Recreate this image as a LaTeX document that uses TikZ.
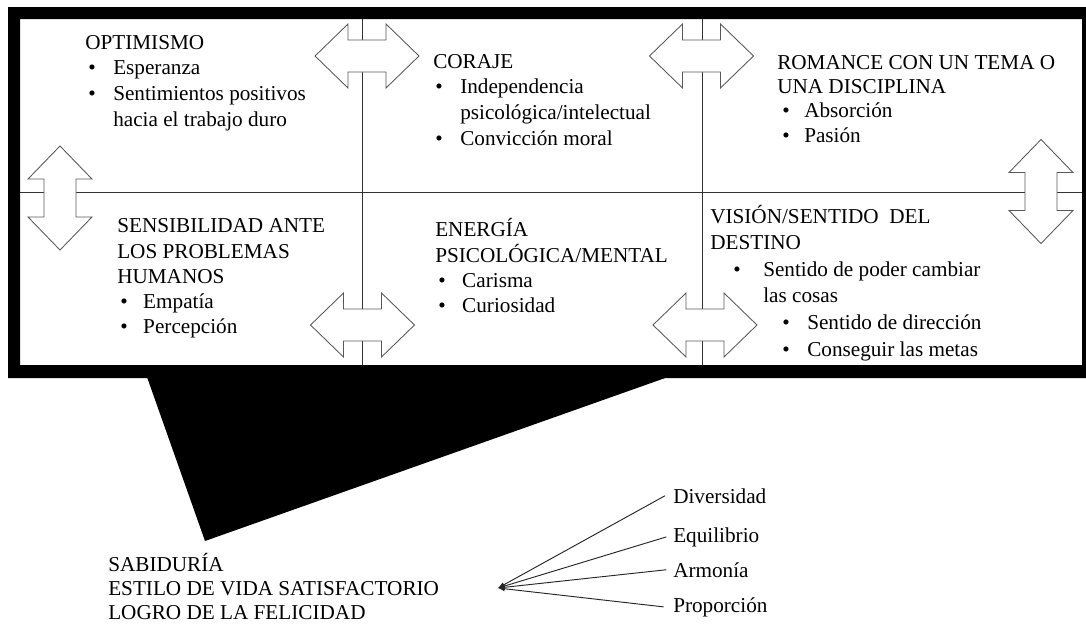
\documentclass[tikz,border=0pt]{standalone}
\usepackage{fontspec}
\setmainfont{Liberation Serif}
\usetikzlibrary{arrows.meta}
% one drawing unit = 0.75pt
\newdimen\px \px=0.75pt
% a stack of lines whose reference point is the first baseline
\newcommand\lns[2]{\vtop{\baselineskip=#1\relax\lineskiplimit=-100pt\relax\lineskip=0pt\relax #2}}
\newcommand\ttl[1]{\hbox{#1}}
% bullet item: bullet offset, text offset, text
\newcommand\blt[3]{\hbox{\rlap{\hskip#1\relax\textbullet}\hskip#2\relax #3}}
% continuation line of an item
\newcommand\cnt[2]{\hbox{\hskip#1\relax #2}}
\begin{document}
\begin{tikzpicture}[x=0.75pt, y=-0.75pt,
  txt/.style={inner sep=0pt, anchor=base west, font=\fontsize{15.9}{19}\selectfont, text=black},
  gridline/.style={line width=0.7pt, draw=black!80},
  arrowline/.style={draw=black!65, fill=white, line width=0.65pt, line join=miter},
  fanline/.style={line width=0.7pt, draw=black!85, -{Latex[length=5pt,width=4pt]}},
  dbl/.pic={\path[arrowline] (-52,0) -- (-19,-32) -- (-19,-16) -- (19,-16) -- (19,-32)
      -- (52,0) -- (19,32) -- (19,16) -- (-19,16) -- (-19,32) -- cycle;}]
\useasboundingbox (0,0) rectangle (1086,626);
\fill[white] (0,0) rectangle (1086,626);

% thick frame around the six qualities
\fill[black, even odd rule] (8,7) rectangle (1096,378) (20,19) rectangle (1082,365);
% funnel leading down to the outcome
\fill[black] (147,377) -- (668,377) -- (205,541) -- cycle;

% dividing lines
\draw[gridline] (20,192.5) -- (1082,192.5);
\draw[gridline] (362.7,19) -- (362.7,365);
\draw[gridline] (702.7,19) -- (702.7,365);

% double arrows between the fields
\pic at (367,56) {dbl};
\pic at (701.5,56) {dbl};
\pic at (362.5,325) {dbl};
\pic at (705,325) {dbl};
\pic[rotate=90] at (60,198) {dbl};
\pic[rotate=90] at (1041,191.5) {dbl};

% the six fields
\node[txt] (optimismo) at (85,49.3) {\lns{25.6\px}{\ttl{OPTIMISMO}%
  \blt{3\px}{28\px}{Esperanza}\blt{3\px}{28\px}{Sentimientos positivos}%
  \cnt{28\px}{hacia el trabajo duro}}};
\node[txt] (coraje) at (433,68.3) {\lns{25.6\px}{\ttl{CORAJE}%
  \blt{2\px}{27\px}{Independencia}\cnt{27\px}{psicológica/intelectual}%
  \blt{2\px}{27\px}{Convicción moral}}};
\node[txt] (romance) at (777,69) {\lns{24.4\px}{\ttl{ROMANCE CON UN TEMA O}%
  \ttl{UNA DISCIPLINA}\blt{5\px}{27\px}{Absorción}\blt{5\px}{27\px}{Pasión}}};
\node[txt] (sensibilidad) at (117,232.7) {\lns{25.3\px}{\ttl{SENSIBILIDAD ANTE}%
  \ttl{LOS PROBLEMAS}\ttl{HUMANOS}\blt{3\px}{26\px}{Empatía}\blt{3\px}{26\px}{Percepción}}};
\node[txt] (energia) at (435,236.7) {\lns{25.3\px}{\ttl{ENERGÍA}%
  \ttl{PSICOLÓGICA/MENTAL}\blt{3\px}{27\px}{Carisma}\blt{3\px}{27\px}{Curiosidad}}};
\node[txt] (vision) at (710,223) {\lns{26.6\px}{\ttl{VISIÓN/SENTIDO\ \ DEL}%
  \ttl{DESTINO}\blt{23\px}{53\px}{Sentido de poder cambiar}\cnt{53\px}{las cosas}%
  \blt{72\px}{97\px}{Sentido de dirección}\blt{72\px}{97\px}{Conseguir las metas}}};

% outcome
\node[txt] (sabiduria) at (108,571) {\lns{24\px}{\ttl{SABIDURÍA}%
  \ttl{ESTILO DE VIDA SATISFACTORIO}\ttl{LOGRO DE LA FELICIDAD}}};

% components fanning into one point
\coordinate (fan) at (498,588);
\node[txt] (diversidad) at (673,503) {Diversidad};
\node[txt] (equilibrio) at (673,542) {Equilibrio};
\node[txt] (armonia) at (673,577) {Armonía};
\node[txt] (proporcion) at (673,612) {Proporción};
\draw[fanline] ([xshift=-6pt]diversidad.west) -- (fan);
\draw[fanline] ([xshift=-5pt]equilibrio.west) -- (fan);
\draw[fanline] ([xshift=-5pt]armonia.west) -- (fan);
\draw[fanline] ([xshift=-7pt]proporcion.west) -- (fan);
\end{tikzpicture}
\end{document}
